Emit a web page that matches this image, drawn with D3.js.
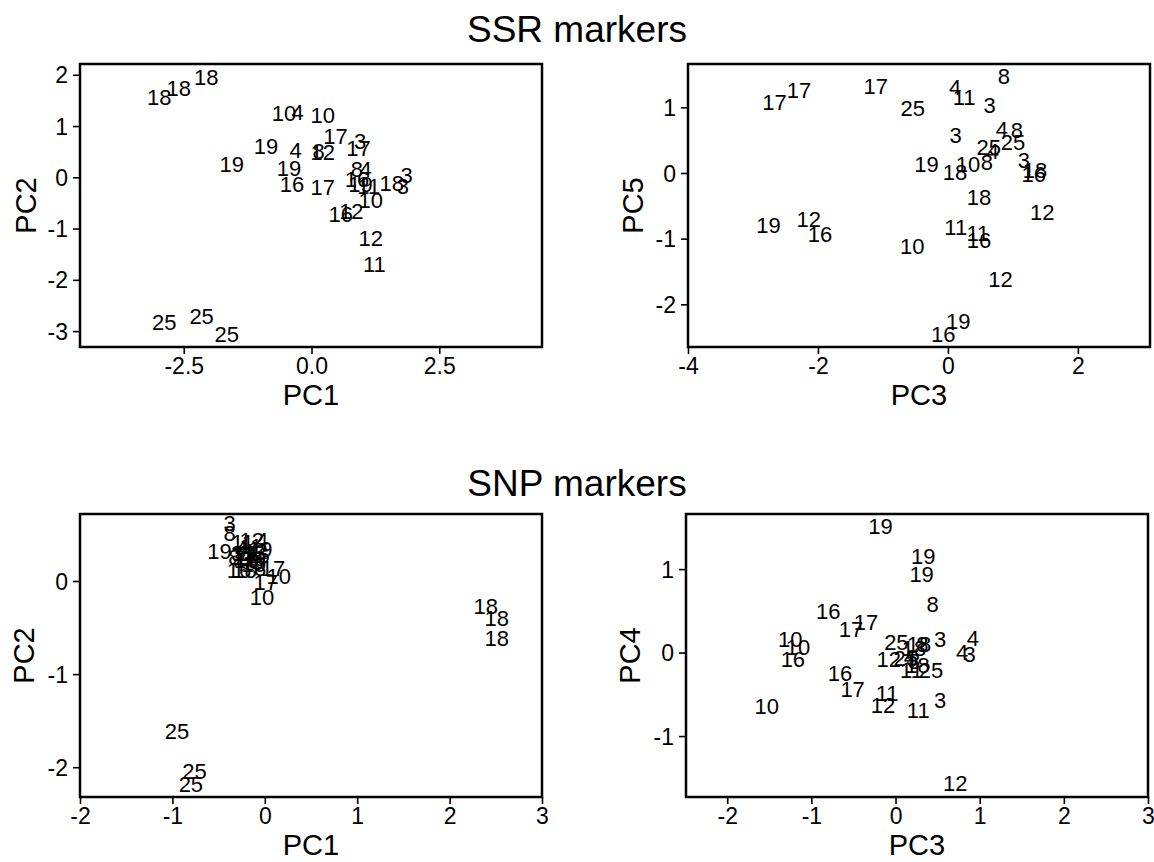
<!DOCTYPE html>
<html>
<head>
<meta charset="utf-8">
<script src="https://cdn.jsdelivr.net/npm/d3@7"></script>
<style>
  body { margin: 0; background: #fff; }
  svg { font-family: "Liberation Sans", Arial, Helvetica, sans-serif; }
</style>
</head>
<body>
<svg id="chart" width="1154" height="862"></svg>
<script>
// SSR markers, PC1 vs PC2
const ssrA_labels = ["18","18","18","10","4","10","17","3","17","19","4","8","12","19","19","16","17","8","4","16","19","11","10","16","12","12","11","18","3","3","25","25","25"];
const ssrA_x = [-2.98,-2.60,-2.06,-0.54,-0.27,0.22,0.47,0.95,0.92,-0.89,-0.31,0.14,0.22,-1.56,-0.44,-0.38,0.22,0.89,1.06,0.89,0.96,1.12,1.16,0.57,0.78,1.16,1.23,1.57,1.79,1.86,-2.88,-2.15,-1.66];
const ssrA_y = [1.56,1.75,1.96,1.25,1.27,1.22,0.81,0.70,0.57,0.60,0.54,0.52,0.50,0.26,0.18,-0.14,-0.19,0.16,0.16,-0.03,-0.13,-0.17,-0.45,-0.71,-0.65,-1.19,-1.69,-0.12,-0.18,0.05,-2.82,-2.71,-3.05];

// SSR markers, PC3 vs PC5
const ssrB_labels = ["17","17","17","25","4","11","3","8","3","4","8","25","25","4","19","18","10","8","3","18","16","18","12","19","12","16","10","11","11","16","12","19","16"];
const ssrB_x = [-2.67,-2.29,-1.11,-0.54,0.11,0.25,0.64,0.86,0.12,0.83,1.06,1.00,0.63,0.69,-0.33,0.11,0.31,0.60,1.17,1.34,1.32,0.48,1.45,-2.76,-2.14,-1.97,-0.55,0.12,0.46,0.48,0.81,0.16,-0.07];
const ssrB_y = [1.08,1.26,1.33,0.99,1.31,1.16,1.04,1.48,0.57,0.67,0.66,0.47,0.39,0.34,0.14,0.01,0.14,0.16,0.20,0.05,-0.01,-0.37,-0.60,-0.80,-0.70,-0.93,-1.11,-0.82,-0.92,-1.02,-1.62,-2.25,-2.46];

// SNP markers, PC1 vs PC2
const snpA_labels = ["18","18","18","25","25","25","10","17","10","17","3","8","11","12","4","19","16","18","8","3","4","11","12","16","19","19","3","4","11","12","16","10","8"];
const snpA_x = [2.39,2.51,2.51,-0.95,-0.76,-0.80,-0.03,0.01,0.15,0.09,-0.38,-0.38,-0.24,-0.14,-0.03,-0.49,-0.28,-0.22,-0.05,-0.30,-0.25,-0.18,-0.10,-0.20,-0.05,-0.12,-0.08,-0.28,-0.15,-0.22,-0.08,-0.12,-0.33];
const snpA_y = [-0.27,-0.40,-0.61,-1.61,-2.04,-2.18,-0.17,-0.01,0.05,0.14,0.62,0.51,0.42,0.44,0.44,0.32,0.12,0.12,0.14,0.30,0.35,0.30,0.32,0.22,0.34,0.25,0.20,0.22,0.38,0.30,0.28,0.18,0.26];

// SNP markers, PC3 vs PC4
const snpB_labels = ["19","19","19","8","16","17","17","10","10","16","25","18","3","4","4","3","12","25","4","18","8","18","8","11","25","16","17","11","12","11","3","10","12"];
const snpB_x = [-0.18,0.33,0.31,0.44,-0.80,-0.35,-0.53,-1.25,-1.16,-1.22,0.01,0.28,0.53,0.92,0.79,0.88,-0.08,0.12,0.17,0.22,0.32,0.26,0.22,0.19,0.42,-0.66,-0.51,-0.10,-0.15,0.27,0.53,-1.53,0.71];
const snpB_y = [1.51,1.15,0.94,0.58,0.50,0.37,0.28,0.16,0.07,-0.08,0.12,0.10,0.16,0.17,0.00,-0.02,-0.08,-0.06,-0.05,0.05,0.10,-0.15,-0.10,-0.21,-0.21,-0.25,-0.44,-0.49,-0.63,-0.69,-0.57,-0.64,-1.56];

// tick values and labels
const ssrA_xTicks = [-2.5, 0, 2.5];
const ssrA_xTickLabels = ["-2.5", "0.0", "2.5"];
const ssrA_yTicks = [2, 1, 0, -1, -2, -3];
const ssrB_xTicks = [-4, -2, 0, 2];
const ssrB_yTicks = [1, 0, -1, -2];
const snpA_xTicks = [-2, -1, 0, 1, 2, 3];
const snpA_yTicks = [0, -1, -2];
const snpB_xTicks = [-2, -1, 0, 1, 2, 3];
const snpB_yTicks = [1, 0, -1];

const titles = ["SSR markers", "SNP markers"];

const svg = d3.select("#chart");
const plotW = 462, plotH = 283;

function zip(labels, xs, ys) {
    return labels.map((l, i) => ({ label: l, x: xs[i], y: ys[i] }));
}

const panels = [
    { left: 80,  top: 64,  xDomain: [-4.53, 4.51], yDomain: [-3.31, 2.21],
      data: zip(ssrA_labels, ssrA_x, ssrA_y), xTicks: ssrA_xTicks, xFmt: (d, i) => ssrA_xTickLabels[i],
      yTicks: ssrA_yTicks, xLab: "PC1", yLab: "PC2", yLabX: 26 },
    { left: 688, top: 64,  xDomain: [-4.0, 3.11], yDomain: [-2.65, 1.66],
      data: zip(ssrB_labels, ssrB_x, ssrB_y), xTicks: ssrB_xTicks, xFmt: d => String(d),
      yTicks: ssrB_yTicks, xLab: "PC3", yLab: "PC5", yLabX: 633 },
    { left: 80,  top: 514, xDomain: [-2, 3], yDomain: [-2.32, 0.72],
      data: zip(snpA_labels, snpA_x, snpA_y), xTicks: snpA_xTicks, xFmt: d => String(d),
      yTicks: snpA_yTicks, xLab: "PC1", yLab: "PC2", yLabX: 24 },
    { left: 686, top: 514, xDomain: [-2.49, 3.0], yDomain: [-1.73, 1.66],
      data: zip(snpB_labels, snpB_x, snpB_y), xTicks: snpB_xTicks, xFmt: d => String(d),
      yTicks: snpB_yTicks, xLab: "PC3", yLab: "PC4", yLabX: 630 }
];

panels.forEach(p => {
    const scaleX = d3.scaleLinear().domain(p.xDomain).range([0, plotW]);
    const scaleY = d3.scaleLinear().domain(p.yDomain).range([plotH, 0]);

    const g = svg.append("g")
        .attr("transform", `translate(${p.left}, ${p.top})`);

    const axisX = d3.axisBottom(scaleX)
        .tickValues(p.xTicks)
        .tickFormat(p.xFmt)
        .tickSize(7)
        .tickPadding(4);

    const axisY = d3.axisLeft(scaleY)
        .tickValues(p.yTicks)
        .tickFormat(d => String(d))
        .tickSize(7)
        .tickPadding(5);

    const gx = g.append("g")
        .attr("transform", `translate(0, ${plotH})`)
        .call(axisX);
    const gy = g.append("g").call(axisY);

    [gx, gy].forEach(a => {
        a.select(".domain").remove();
        a.selectAll("line").attr("stroke", "#000").attr("stroke-width", 1.6);
        a.selectAll("text")
            .attr("fill", "#000")
            .style("font-size", "23px")
            .style("font-family", "'Liberation Sans', Arial, sans-serif");
    });
    gy.selectAll("text").attr("dy", "0.35em");

    g.append("rect")
        .attr("width", plotW)
        .attr("height", plotH)
        .attr("fill", "none")
        .attr("stroke", "#000")
        .attr("stroke-width", 2.5);

    g.selectAll(".pt")
        .data(p.data)
        .enter()
        .append("text")
        .attr("class", "pt")
        .attr("x", d => scaleX(d.x))
        .attr("y", d => scaleY(d.y))
        .attr("dy", "0.36em")
        .attr("text-anchor", "middle")
        .style("font-size", "22px")
        .text(d => d.label);

    svg.append("text")
        .attr("x", p.left + plotW / 2)
        .attr("y", p.top + plotH + 58)
        .attr("text-anchor", "middle")
        .style("font-size", "29px")
        .text(p.xLab);

    svg.append("text")
        .attr("transform", `translate(${p.yLabX + 10}, ${p.top + plotH / 2}) rotate(-90)`)
        .attr("text-anchor", "middle")
        .style("font-size", "29px")
        .text(p.yLab);
});

svg.append("text")
    .attr("x", 577)
    .attr("y", 42)
    .attr("text-anchor", "middle")
    .style("font-size", "37px")
    .text(titles[0]);

svg.append("text")
    .attr("x", 577)
    .attr("y", 496)
    .attr("text-anchor", "middle")
    .style("font-size", "37px")
    .text(titles[1]);
</script>
</body>
</html>
